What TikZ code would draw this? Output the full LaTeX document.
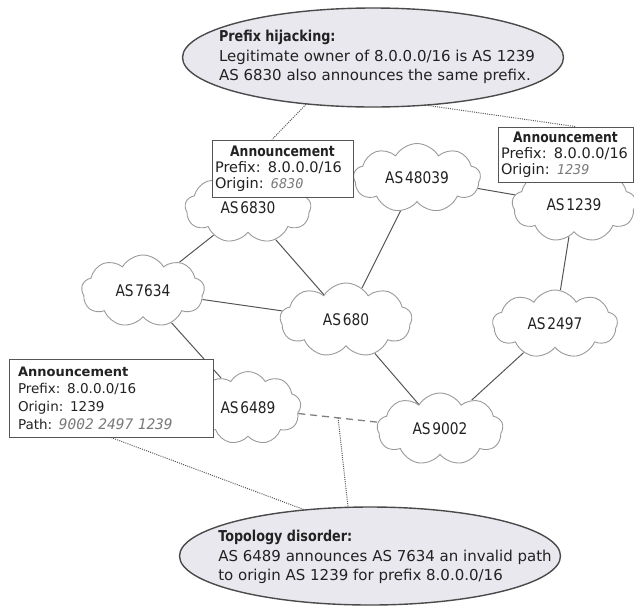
\documentclass[tikz,border=0pt]{standalone}
\usepackage{fontspec}
\setmainfont{DejaVu Sans}
\setmonofont{DejaVu Sans Mono}
\newfontfamily\condfont{DejaVu Sans}[FakeStretch=0.85]
\newfontfamily\cloudfont{DejaVu Sans}[FakeStretch=0.86,WordSpace=0.4]
\usetikzlibrary{shapes.geometric,shapes.symbols,backgrounds}
\definecolor{txt}{HTML}{222222}
\definecolor{cloudgray}{HTML}{9A9A9A}
\definecolor{bubbleedge}{HTML}{4A4A4A}
\definecolor{bubblefill}{HTML}{E8E8EE}
\definecolor{boxedge}{HTML}{555555}
\definecolor{linkgray}{HTML}{555555}
\definecolor{dashgray}{HTML}{808080}
\definecolor{numgray}{HTML}{7A7A7A}
\tikzset{
  cloudnode/.style={cloud, cloud puffs=9, cloud puff arc=120, cloud ignores aspect,
    draw=cloudgray, line width=0.9pt, fill=white, inner sep=0pt,
    font=\cloudfont\fontsize{16}{18}\selectfont, text=txt},
  bubble/.style={ellipse, draw=bubbleedge, line width=1.4pt, fill=bubblefill, inner sep=0pt},
  bubbletext/.style={align=left, font=\fontsize{15}{19.5}\selectfont, text=txt, inner sep=0pt},
  annbox/.style={rectangle, draw=boxedge, line width=1pt, fill=white, inner sep=0pt,
    align=left, text=txt},
  link/.style={draw=linkgray, line width=1pt},
  dashline/.style={draw=dashgray, line width=1.3pt, dash pattern=on 7pt off 5pt},
  callout/.style={draw=linkgray, line width=1pt, dash pattern=on 1pt off 1.2pt},
}
\newcommand{\bubbletitle}[1]{{\condfont\bfseries #1}}
\newcommand{\numval}[2]{{\color{numgray}\ttfamily\itshape\fontsize{#1}{16}\selectfont #2}}
\begin{document}
\begin{tikzpicture}[x=1pt,y=-1pt]
\useasboundingbox (0,0) rectangle (634,606);
\clip (0,0) rectangle (634,606);

% callout bubbles
\node[bubble, minimum width=381, minimum height=99] (hij) at (373,57.5) {};
\node[bubbletext] (hijtext) at (377,57) {\bubbletitle{Prefix hijacking:}\\
Legitimate owner of 8.0.0.0/16 is AS 1239\\
AS 6830 also announces the same prefix.};

\node[bubble, minimum width=381, minimum height=98] (dis) at (370,556) {};
\node[bubbletext] (distext) at (385,557) {\bubbletitle{Topology disorder:}\\
AS 6489 announces AS 7634 an invalid path\\
to origin AS 1239 for prefix 8.0.0.0/16};

% clouds
\node[cloudnode, minimum width=126, minimum height=70] (c6830) at (248,208) {AS 6830};
\node[cloudnode, minimum width=127, minimum height=69] (c48039) at (417,178) {AS 48039};
\node[cloudnode, minimum width=124, minimum height=74] (c1239) at (574,205) {AS 1239};
\node[cloudnode, minimum width=123, minimum height=72] (c7634) at (143,291) {AS 7634};
\node[cloudnode, minimum width=132, minimum height=74] (c680) at (346,320) {AS 680};
\node[cloudnode, minimum width=125, minimum height=68] (c2497) at (555,324) {AS 2497};
\node[cloudnode, minimum width=106, minimum height=73] (c6489) at (248,408) {AS 6489};
\node[cloudnode, minimum width=126, minimum height=72] (c9002) at (440,429) {AS 9002};

% announcement boxes
\node[annbox, minimum width=141, minimum height=57, text width=135,
  font=\fontsize{14.5}{16}\selectfont] (box1) at (282.5,168.5)
  {\makebox[135pt]{\condfont\bfseries Announcement}\\
   Prefix: 8.0.0.0/16\\
   Origin: \numval{13.5}{6830}};
\node[annbox, minimum width=135, minimum height=55, text width=129,
  font=\fontsize{14.5}{16}\selectfont] (box2) at (565.5,154.5)
  {\makebox[129pt]{\condfont\bfseries Announcement}\\
   Prefix: 8.0.0.0/16\\
   Origin: \numval{13.5}{1239}};
\node[annbox, minimum width=204, minimum height=78, text width=186,
  font=\fontsize{13.5}{17.7}\selectfont] (box3) at (111,398)
  {{\bfseries\fontsize{13}{17.7}\selectfont Announcement}\\
   Prefix: 8.0.0.0/16\\
   Origin: 1239\\
   Path: \numval{14.5}{9002 2497 1239}};

\begin{pgfonlayer}{background}
\draw[link] (c6830) -- (c7634);
\draw[link] (c6830) -- (c680);
\draw[link] (c48039) -- (c680);
\draw[link] (c48039) -- (c1239);
\draw[link] (c1239) -- (c2497);
\draw[link] (c7634) -- (c680);
\draw[link] (c7634) -- (c6489);
\draw[link] (c680) -- (c9002);
\draw[link] (c2497) -- (c9002);
\draw[dashline] (c6489) -- coordinate[pos=0.5] (dm) (c9002);
\draw[callout] (hij.215.8) -- ([xshift=-10.5pt]box1.north);
\draw[callout] (hij.319.2) -- ([xshift=9.5pt]box2.north);
\draw[callout] (box3.south) -- (dis.145.4);
\draw[callout] (dm) -- (dis.114.7);
\end{pgfonlayer}
\end{tikzpicture}
\end{document}
